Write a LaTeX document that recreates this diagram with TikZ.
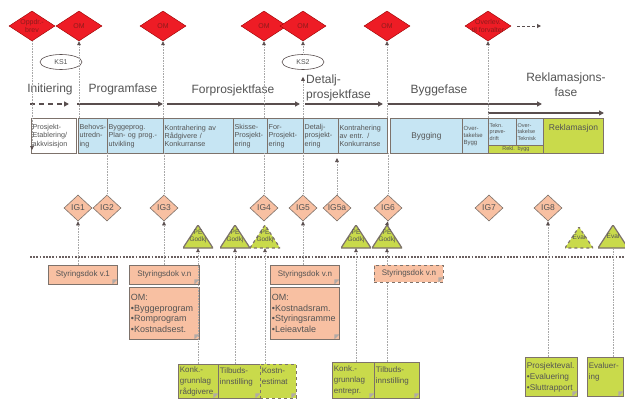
\documentclass[tikz,border=0pt]{standalone}
\usepackage{fontspec}
\setmainfont{Liberation Sans}
\usetikzlibrary{shapes.geometric,arrows.meta}
\definecolor{redd}{HTML}{EE1C25}
\definecolor{redtxt}{HTML}{8E1B1B}
\definecolor{salmon}{HTML}{F8C0A2}
\definecolor{lblue}{HTML}{C6E5F3}
\definecolor{lgreen}{HTML}{C9DA4B}
\definecolor{bord}{HTML}{7D726B}
\definecolor{txt}{HTML}{545454}
\definecolor{vline}{HTML}{A8A8A8}
\definecolor{darr}{HTML}{594E4E}
\begin{document}
\begin{tikzpicture}[x=1pt,y=-1pt,
 topdia/.style={diamond, fill=redd, draw=red!60!black, line width=0.4pt, minimum width=46pt, minimum height=30pt, inner sep=0pt, align=center, text=redtxt, font=\fontsize{7}{7.5}\selectfont},
 dtext/.style={inner sep=0pt, align=center, text=redtxt, font=\fontsize{7}{7.5}\selectfont},
 ks/.style={ellipse, draw=darr, line width=0.6pt, minimum width=42pt, minimum height=15pt, inner sep=0pt, text=txt, font=\fontsize{7}{8}\selectfont},
 phase/.style={text=txt, font=\fontsize{12}{15}\selectfont, inner sep=0pt},
 parr/.style={draw=darr, line width=1.5pt, -{Triangle[length=5pt,width=5pt]}},
 phbox/.style={draw=bord, line width=0.9pt, fill=lblue, anchor=north west, inner xsep=1.2pt, inner ysep=0pt, minimum height=35pt, align=left, text=txt, font=\fontsize{7.2}{8.4}\selectfont},
 igdia/.style={diamond, fill=salmon, draw=bord, line width=0.6pt, minimum width=28pt, minimum height=26pt, inner sep=0pt, text=txt, font=\fontsize{8.5}{9}\selectfont},
 petri/.style={minimum width=30pt, minimum height=23pt, inner sep=0pt, align=center, text=txt, font=\fontsize{6.5}{7.5}\selectfont,
   path picture={\filldraw[fill=lgreen, draw=bord, line width=1.2pt, #1] (path picture bounding box.south west) -- (path picture bounding box.north) -- (path picture bounding box.south east) -- cycle;}},
 petri/.default=solid,
 dogear/.style={path picture={\fill[bord!60] ([xshift=-5pt]path picture bounding box.south east) -- ([xshift=-5pt,yshift=5pt]path picture bounding box.south east) -- ([yshift=5pt]path picture bounding box.south east) -- cycle;}},
 sbox/.style={draw=bord, line width=0.8pt, fill=salmon, anchor=north west, inner xsep=1.5pt, inner ysep=0pt, text=txt, font=\fontsize{8}{9}\selectfont, dogear},
 gbox/.style={draw=bord, line width=0.8pt, fill=lgreen, anchor=north west, inner xsep=1.5pt, inner ysep=0pt, align=left, text=txt, font=\fontsize{8}{11}\selectfont, dogear},
 vconn/.style={draw=vline, line width=0.6pt, densely dotted},
 endtip/.style={-{Triangle[length=4pt,width=3.6pt,color=darr]}},
 hdots/.style={draw=darr!90, line width=1.8pt, dash pattern=on 1.8pt off 1.4pt},
 dasharr/.style={draw=darr, line width=1pt, dash pattern=on 3pt off 2pt, -{Triangle[length=4pt,width=4pt]}}
]
\useasboundingbox (0,0) rectangle (625,399);
\fill[white] (0,0) rectangle (625,399);

\coordinate (rowtop) at (0,118);
\coordinate (rowbot) at (0,153);

% top decision diamonds
\node[topdia] (d1) at (32,26) {};
\node[dtext] (d1t) at (d1) {Oppdr.-\\brev};
\node[topdia] (d2) at (79,26) {OM};
\node[topdia] (d3) at (163,26) {OM};
\node[topdia] (d4) at (264,26) {OM};
\node[topdia] (d5) at (303,26) {OM};
\node[topdia] (d6) at (387,26) {OM};
\node[topdia] (d7) at (488,26) {};
\node[dtext] (d7t) at (d7) {Overlev.\\til forvalter};
\coordinate (d7end) at (541,26);
\draw[dasharr] ([xshift=6pt]d7.east) -- (d7end);

% KS ellipses
\node[ks] (ks1) at (61,62) {KS1};
\node[ks] (ks2) at (303,62) {KS2};

% phase labels
\node[phase] (p1) at (50,89) {Initiering};
\node[phase] (p2) at (123,89) {Programfase};
\node[phase] (p3) at (233,90) {Forprosjektfase};
\node[phase, align=left, anchor=west] (p4) at (306,88) {Detalj-\\prosjektfase};
\node[phase] (p5) at (439,90) {Byggefase};
\node[phase, align=center] (p6) at (566,85) {Reklamasjons-\\fase};

% phase arrows
\coordinate (a1s) at (30,104); \coordinate (a1e) at (69,104);
\coordinate (a2s) at (77,104); \coordinate (a2e) at (163,104);
\coordinate (a3s) at (167,104); \coordinate (a3e) at (300,104);
\coordinate (a4s) at (305,104); \coordinate (a4e) at (383,104);
\coordinate (a5s) at (388,104); \coordinate (a5e) at (542,104);
\coordinate (a6s) at (488,113); \coordinate (a6e) at (604,113);
\draw[parr, dash pattern=on 5pt off 4pt] (a1s) -- (a1e);
\draw[parr] (a2s) -- (a2e);
\draw[parr] (a3s) -- (a3e);
\draw[parr] (a4s) -- (a4e);
\draw[parr] (a5s) -- (a5e);
\draw[parr] (a6s) -- (a6e);

% activity row
\node[phbox, fill=white, text width=42.6pt] (b0) at (31,118) {Prosjekt-\\Etablering/\\akkvisisjon};
\node[phbox, text width=26.6pt] (b1) at (78,118) {\mbox{Behovs-}\\utredn-\\ing};
\node[phbox, text width=53.6pt] (b2) at (107,118) {Byggeprog.\\Plan- og prog.-\\utvikling};
\node[phbox, text width=67.6pt] (b3) at (163,118) {Kontrahering av\\Rådgivere /\\Konkurranse};
\node[phbox, text width=31.6pt] (b4) at (233,118) {Skisse-\\Prosjekt-\\ering};
\node[phbox, text width=33.6pt] (b5) at (267,118) {For-\\Prosjekt-\\ering};
\node[phbox, text width=32.6pt] (b6) at (303,118) {Detalj-\\prosjekt-\\ering};
\node[phbox, text width=46.6pt] (b7) at (338,118) {Kontrahering\\av entr. /\\Konkurranse};
\node[phbox, text width=69.6pt, align=center, font=\fontsize{8.3}{10}\selectfont] (b8) at (390,118) {Bygging};
\node[phbox, text width=23.6pt, font=\fontsize{6}{7.2}\selectfont] (b9) at (462,118) {Over-\\takelse\\Bygg};
\node[phbox, text width=25.6pt, minimum height=27pt, font=\fontsize{5.5}{6.6}\selectfont] (b10) at (488,118) {Tekn.\\prøve-\\drift};
\node[phbox, text width=24.6pt, minimum height=27pt, font=\fontsize{5.5}{6.6}\selectfont] (b11) at (516,118) {Over-\\takelse\\Teknisk};
\node[phbox, fill=lgreen, text width=52.6pt, minimum height=8pt, align=center, font=\fontsize{5.5}{6}\selectfont] (b12) at (488,145) {Rekl. bygg};
\node[phbox, fill=lgreen, text width=57.6pt, align=center, font=\fontsize{8.5}{10}\selectfont] (b13) at (543,118) {Reklamasjon\\[8pt]\mbox{}};

% IG diamonds
\node[igdia] (ig1) at (78,208) {IG1};
\node[igdia] (ig2) at (107,208) {IG2};
\node[igdia] (ig3) at (164,208) {IG3};
\node[igdia] (ig4) at (264,208) {IG4};
\node[igdia] (ig5) at (303,208) {IG5};
\node[igdia] (ig5a) at (337,208) {IG5a};
\node[igdia] (ig6) at (388,208) {IG6};
\node[igdia] (ig7) at (489,208) {IG7};
\node[igdia] (ig8) at (548,208) {IG8};

% approval triangles
\node[petri] (pe1) at (198,236.5) {PE\\Godkj};
\node[petri] (pe2) at (235,236.5) {PE\\Godkj};
\node[petri=dashed] (pe3) at (265,236.5) {PE\\Godkj};
\node[petri] (pe4) at (356,236.5) {PE\\Godkj};
\node[petri] (pe5) at (387,236.5) {PE\\Godkj};
\node[petri=dashed, minimum width=28pt, minimum height=21pt] (ev1) at (579,237.5) {\raisebox{-2.5pt}{Eval}};
\node[petri] (ev2) at (613,236.5) {\raisebox{-2.5pt}{Eval}};

% horizontal dotted line
\coordinate (hl1) at (30,257); \coordinate (hl2) at (625,257);
\draw[hdots] (hl1) -- (hl2);

% documents
\node[sbox, minimum width=69pt, minimum height=19pt] (sd1) at (48,265) {Styringsdok v.1};
\node[sbox, minimum width=70pt, minimum height=19pt] (sd2) at (129,265) {Styringsdok v.n};
\node[sbox, text width=67pt, minimum height=52pt, align=left, font=\fontsize{9}{10.6}\selectfont] (om1) at (129,287) {OM:\\•Byggeprogram\\•Romprogram\\•Kostnadsest.};
\node[sbox, minimum width=69pt, minimum height=19pt] (sd3) at (270,265) {Styringsdok v.n};
\node[sbox, text width=66pt, minimum height=52pt, align=left, font=\fontsize{9}{10.6}\selectfont] (om2) at (270,287) {OM:\\•Kostnadsram.\\•Styringsramme\\•Leieavtale};
\node[sbox, dashed, minimum width=69pt, minimum height=17pt] (sd4) at (374,265) {Styringsdok v.n};

\node[gbox, text width=37pt, minimum height=34pt] (gb1) at (178,364) {Konk.-\\grunnlag\\rådgivere};
\node[gbox, text width=39pt, minimum height=34pt] (gb2) at (218,364) {Tilbuds-\\innstilling\\\mbox{}};
\node[gbox, dashed, text width=33pt, minimum height=34pt] (gb3) at (260,364) {Kostn-\\estimat\\\mbox{}};
\node[gbox, text width=39pt, minimum height=36pt] (gb4) at (332,362) {Konk.-\\grunnlag\\entrepr.};
\node[gbox, text width=42pt, minimum height=36pt] (gb5) at (374,362) {Tilbuds-\\innstilling\\\mbox{}};
\node[gbox, text width=49pt, minimum height=39pt, font=\fontsize{8.3}{11}\selectfont] (pev) at (525,357) {Prosjekteval.\\•Evaluering\\•Sluttrapport};
\node[gbox, text width=33pt, minimum height=39pt] (evb) at (587,357) {Evaluer-\\ing\\\mbox{}};

% connectors, top part
\coordinate (c1) at (32,150);
\draw[vconn, endtip] (d1.south) -- (c1);
\draw[vconn, endtip] (d2.south |- rowtop) -- (d2.south);
\draw[vconn, endtip] (d3.south |- rowtop) -- (d3.south);
\draw[vconn, endtip] (d4.south |- rowtop) -- (d4.south);
\draw[vconn, endtip] (ks2.north) -- (d5.south);
\draw[vconn, endtip, shorten >=7pt] (ks2.south |- rowtop) -- (ks2.south);
\draw[vconn, endtip] (d6.south |- rowtop) -- (d6.south);
\draw[vconn, endtip] (d7.south |- rowtop) -- (d7.south);

% connectors, below the row
\draw[vconn] (ig2.north |- rowbot) -- (ig2.north);
\draw[vconn] (ig3.north |- rowbot) -- (ig3.north);
\draw[vconn] (ig4.north |- rowbot) -- (ig4.north);
\draw[vconn] (ig5.north |- rowbot) -- (ig5.north);
\draw[vconn, endtip, shorten >=5pt] (ig5a.north) -- (ig5a.north |- rowbot);
\draw[vconn] (ig6.north |- rowbot) -- (ig6.north);

% connectors, lower part
\draw[vconn, endtip] (sd1.north -| ig1.south) -- (ig1.south);
\draw[vconn, endtip] (sd2.north -| ig3.south) -- (ig3.south);
\draw[vconn, endtip] (sd3.north -| ig5.south) -- (ig5.south);
\draw[vconn, endtip] (pe5.north) -- (ig6.south);
\draw[vconn, endtip] (pev.north -| ig8.south) -- (ig8.south);
\draw[vconn, endtip] (gb1.north -| pe1.south) -- (pe1.south);
\draw[vconn, endtip] (gb2.north -| pe2.south) -- (pe2.south);
\draw[vconn, endtip] (gb3.north -| pe3.south) -- (pe3.south);
\draw[vconn, endtip] (gb4.north -| pe4.south) -- (pe4.south);
\draw[vconn, endtip] (sd4.north -| pe5.south) -- (pe5.south);
\draw[vconn] (gb5.north -| pe5.south) -- (sd4.south -| pe5.south);
\draw[vconn] (evb.north -| ev2.south) -- (ev2.south);
\end{tikzpicture}
\end{document}
